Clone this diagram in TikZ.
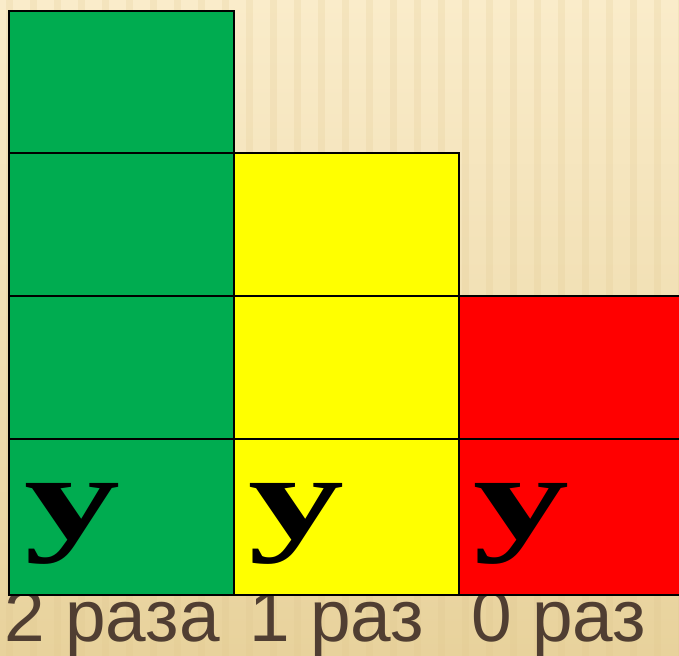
\documentclass[tikz,border=0pt]{standalone}
\usepackage{fontspec}
\setmainfont{Liberation Sans}
\newfontfamily\letterfont{Liberation Serif}
\definecolor{woodtop}{RGB}{250,236,202}
\definecolor{woodbot}{RGB}{232,210,156}
\definecolor{woodline}{RGB}{222,196,140}
\definecolor{grass}{RGB}{0,172,80}
\definecolor{lemon}{RGB}{255,255,0}
\definecolor{tomato}{RGB}{255,0,0}
\definecolor{inkbrown}{RGB}{80,62,50}

\begin{document}
\begin{tikzpicture}[x=0.5pt, y=0.5pt,
  letter/.style={inner sep=0pt, anchor=base west, xscale=1.6, font=\letterfont\bfseries\fontsize{60}{60}\selectfont},
  count/.style={inner sep=0pt, anchor=base west, text=inkbrown, font=\fontsize{36.5}{36.5}\selectfont}]
\clip (0,0) rectangle (679,656);
\shade[top color=woodtop, bottom color=woodbot] (0,0) rectangle (679,656);
\foreach \s in {6,30,...,679} {
  \fill[woodline, opacity=0.2] (\s,0) rectangle (\s+7,656);
}
\node[count] (lbltwo) at (4,14) {2 раза};
\node[count] (lblone) at (249,14) {1 раз};
\node[count] (lblzero) at (471,14) {0 раз};
\draw[fill=grass, line width=1pt] (9,61) rectangle (234,216.5);
\draw[fill=grass, line width=1pt] (9,216.5) rectangle (234,360);
\draw[fill=grass, line width=1pt] (9,360) rectangle (234,502.5);
\draw[fill=grass, line width=1pt] (9,502.5) rectangle (234,645);
\draw[fill=lemon, line width=1pt] (234,61) rectangle (459,216.5);
\draw[fill=lemon, line width=1pt] (234,216.5) rectangle (459,360);
\draw[fill=lemon, line width=1pt] (234,360) rectangle (459,502.5);
\draw[fill=tomato, line width=1pt] (459,61) rectangle (700,216.5);
\draw[fill=tomato, line width=1pt] (459,216.5) rectangle (700,360);
\node[letter] (ugreen) at (24,117) {у};
\node[letter] (uyellow) at (248,117) {у};
\node[letter] (ured) at (473,117) {у};
\end{tikzpicture}
\end{document}
